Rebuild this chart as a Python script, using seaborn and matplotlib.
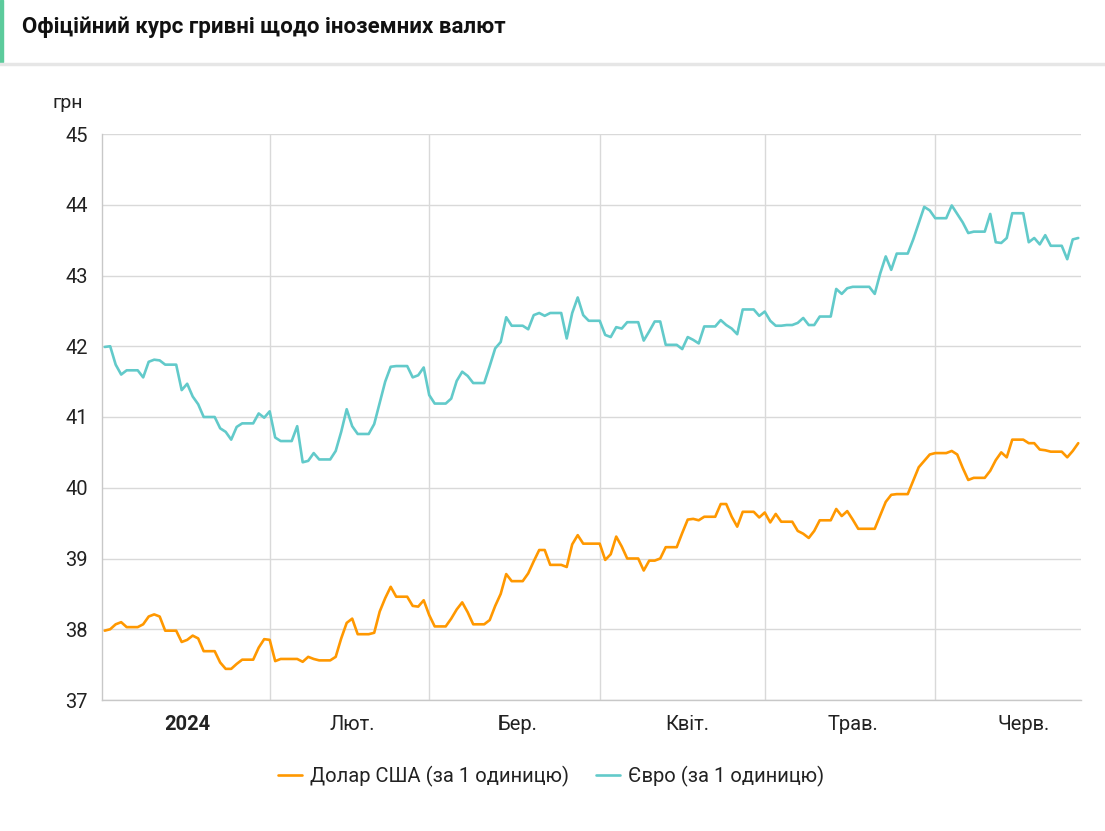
import pandas as pd
import matplotlib.pyplot as plt
from matplotlib.lines import Line2D
from matplotlib.patches import Rectangle
import seaborn as sns

sns.set_style("white")
plt.rcParams['font.family'] = ['Roboto', 'DejaVu Sans']

# daily official rates, 2 Jan - 27 Jun 2024
dates = pd.date_range("2024-01-02", "2024-06-27", freq="D")

usd = [37.98, 38.00, 38.07, 38.10, 38.03, 38.03, 38.03, 38.07, 38.18, 38.21,
       38.18, 37.98, 37.98, 37.98, 37.82, 37.85, 37.91, 37.87, 37.69, 37.69,
       37.69, 37.53, 37.44, 37.44, 37.51, 37.57, 37.57, 37.57, 37.74, 37.86,
       37.85, 37.55, 37.58, 37.58, 37.58, 37.58, 37.54, 37.61, 37.58, 37.56,
       37.56, 37.56, 37.61, 37.87, 38.09, 38.15, 37.93, 37.93, 37.93, 37.95,
       38.25, 38.44, 38.60, 38.46, 38.46, 38.46, 38.33, 38.32, 38.41, 38.20,
       38.04, 38.04, 38.04, 38.15, 38.28, 38.38, 38.24, 38.07, 38.07, 38.07,
       38.13, 38.33, 38.50, 38.78, 38.68, 38.68, 38.68, 38.79, 38.96, 39.12,
       39.12, 38.91, 38.91, 38.91, 38.88, 39.20, 39.33, 39.21, 39.21, 39.21,
       39.21, 38.98, 39.06, 39.31, 39.17, 39.00, 39.00, 39.00, 38.83, 38.97,
       38.97, 39.00, 39.16, 39.16, 39.16, 39.36, 39.55, 39.56, 39.54, 39.59,
       39.59, 39.59, 39.77, 39.77, 39.59, 39.45, 39.66, 39.66, 39.66, 39.58,
       39.65, 39.51, 39.63, 39.52, 39.52, 39.52, 39.39, 39.35, 39.29, 39.39,
       39.54, 39.54, 39.54, 39.70, 39.60, 39.67, 39.55, 39.42, 39.42, 39.42,
       39.42, 39.61, 39.80, 39.90, 39.91, 39.91, 39.91, 40.10, 40.29, 40.38,
       40.47, 40.49, 40.49, 40.49, 40.52, 40.47, 40.28, 40.11, 40.14, 40.14,
       40.14, 40.24, 40.39, 40.50, 40.43, 40.68, 40.68, 40.68, 40.63, 40.63,
       40.54, 40.53, 40.51, 40.51, 40.51, 40.43, 40.52, 40.63]

eur = [41.99, 42.00, 41.74, 41.60, 41.66, 41.66, 41.66, 41.56, 41.78, 41.81,
       41.80, 41.74, 41.74, 41.74, 41.38, 41.47, 41.29, 41.18, 41.00, 41.00,
       41.00, 40.84, 40.79, 40.68, 40.86, 40.91, 40.91, 40.91, 41.05, 40.99,
       41.08, 40.71, 40.66, 40.66, 40.66, 40.87, 40.36, 40.38, 40.49, 40.40,
       40.40, 40.40, 40.52, 40.79, 41.11, 40.87, 40.76, 40.76, 40.76, 40.90,
       41.20, 41.50, 41.71, 41.72, 41.72, 41.72, 41.56, 41.59, 41.70, 41.31,
       41.19, 41.19, 41.19, 41.26, 41.51, 41.64, 41.58, 41.48, 41.48, 41.48,
       41.72, 41.97, 42.06, 42.41, 42.29, 42.29, 42.29, 42.24, 42.44, 42.47,
       42.43, 42.47, 42.47, 42.47, 42.11, 42.47, 42.69, 42.44, 42.36, 42.36,
       42.36, 42.16, 42.13, 42.27, 42.25, 42.34, 42.34, 42.34, 42.08, 42.21,
       42.35, 42.35, 42.02, 42.02, 42.02, 41.96, 42.13, 42.09, 42.04, 42.28,
       42.28, 42.28, 42.37, 42.30, 42.25, 42.17, 42.52, 42.52, 42.52, 42.43,
       42.49, 42.36, 42.29, 42.29, 42.30, 42.30, 42.33, 42.40, 42.30, 42.30,
       42.42, 42.42, 42.42, 42.81, 42.74, 42.82, 42.84, 42.84, 42.84, 42.84,
       42.74, 43.03, 43.27, 43.08, 43.31, 43.31, 43.31, 43.51, 43.74, 43.97,
       43.92, 43.81, 43.81, 43.81, 43.99, 43.87, 43.75, 43.60, 43.62, 43.62,
       43.62, 43.87, 43.47, 43.46, 43.53, 43.88, 43.88, 43.88, 43.47, 43.53,
       43.44, 43.57, 43.42, 43.42, 43.42, 43.23, 43.51, 43.53]

usd_label = "Долар США (за 1 одиницю)"
eur_label = "Євро (за 1 одиницю)"
month_labels = ["2024", "Лют.", "Бер.", "Квіт.", "Трав.", "Черв."]
y_ticks = [37, 38, 39, 40, 41, 42, 43, 44, 45]

usd_color = "#FF9800"
eur_color = "#62CACA"
grid_color = "#D9D9D9"

df = pd.DataFrame({
    "date": list(dates) * 2,
    "rate": usd + eur,
    "currency": [usd_label] * len(usd) + [eur_label] * len(eur),
})

fig = plt.figure(figsize=(11.05, 8.31), dpi=100)
fig.patch.set_facecolor("white")

# header: green mark on the left, shadow line under it
fig.patches.append(Rectangle((0, 1 - 62 / 831), 2.5 / 1105, 62 / 831,
                             transform=fig.transFigure, color="#5CCB9C"))
fig.lines.append(Line2D([0, 1], [1 - 63.5 / 831] * 2, transform=fig.transFigure,
                        color="#E6E6E6", linewidth=2.5))
fig.text(22 / 1105, 1 - 27 / 831, "Офіційний курс гривні щодо іноземних валют",
         fontsize=16, fontweight="bold", color="#111111", va="center", ha="left")

ax = fig.add_axes([101.7 / 1105, 1 - 700 / 831, (1081 - 101.7) / 1105, (700 - 134) / 831])
sns.lineplot(data=df, x="date", y="rate", hue="currency",
             palette={usd_label: usd_color, eur_label: eur_color},
             linewidth=1.9, ax=ax, legend=False)

ax.set_xlim(pd.Timestamp("2024-01-02") - pd.Timedelta(hours=13),
            pd.Timestamp("2024-06-27") + pd.Timedelta(hours=12))
ax.set_ylim(37, 45)
ax.set_yticks(y_ticks)
ax.set_yticklabels([str(v) for v in y_ticks])

month_starts = pd.to_datetime(["2024-02-01", "2024-03-01", "2024-04-01",
                               "2024-05-01", "2024-06-01"])
month_mids = pd.to_datetime(["2024-01-17", "2024-02-16", "2024-03-17",
                             "2024-04-17", "2024-05-17", "2024-06-17"])
ax.set_xticks(month_starts)
ax.set_xticklabels([])
ax.set_xticks(month_mids, minor=True)
ax.set_xticklabels(month_labels, minor=True)
ax.tick_params(axis="x", which="both", length=0, pad=11, labelsize=14.5, colors="#222222")
ax.tick_params(axis="y", length=0, pad=10, labelsize=14.5, colors="#222222")
for lab in ax.get_xticklabels(minor=True):
    if lab.get_text() == "2024":
        lab.set_fontweight("bold")

ax.grid(True, which="major", color=grid_color, linewidth=1)
ax.set_axisbelow(True)
for side in ["top", "right"]:
    ax.spines[side].set_visible(False)
for side in ["left", "bottom"]:
    ax.spines[side].set_color("#C8C8C8")
    ax.spines[side].set_linewidth(1)
ax.set_xlabel("")
ax.set_ylabel("")
fig.text(52 / 1105, 1 - 103 / 831, "грн", fontsize=14, color="#222222",
         va="center", ha="left")

handles = [Line2D([], [], color=usd_color, linewidth=1.9),
           Line2D([], [], color=eur_color, linewidth=1.9)]
fig.legend(handles, [usd_label, eur_label], loc="center",
           bbox_to_anchor=(551 / 1105, 1 - 776 / 831), ncol=2, frameon=False,
           fontsize=14.5, handlelength=1.2, columnspacing=1.3, handletextpad=0.4,
           labelcolor="#222222")

fig.savefig("out.png", dpi=100, facecolor="white")
